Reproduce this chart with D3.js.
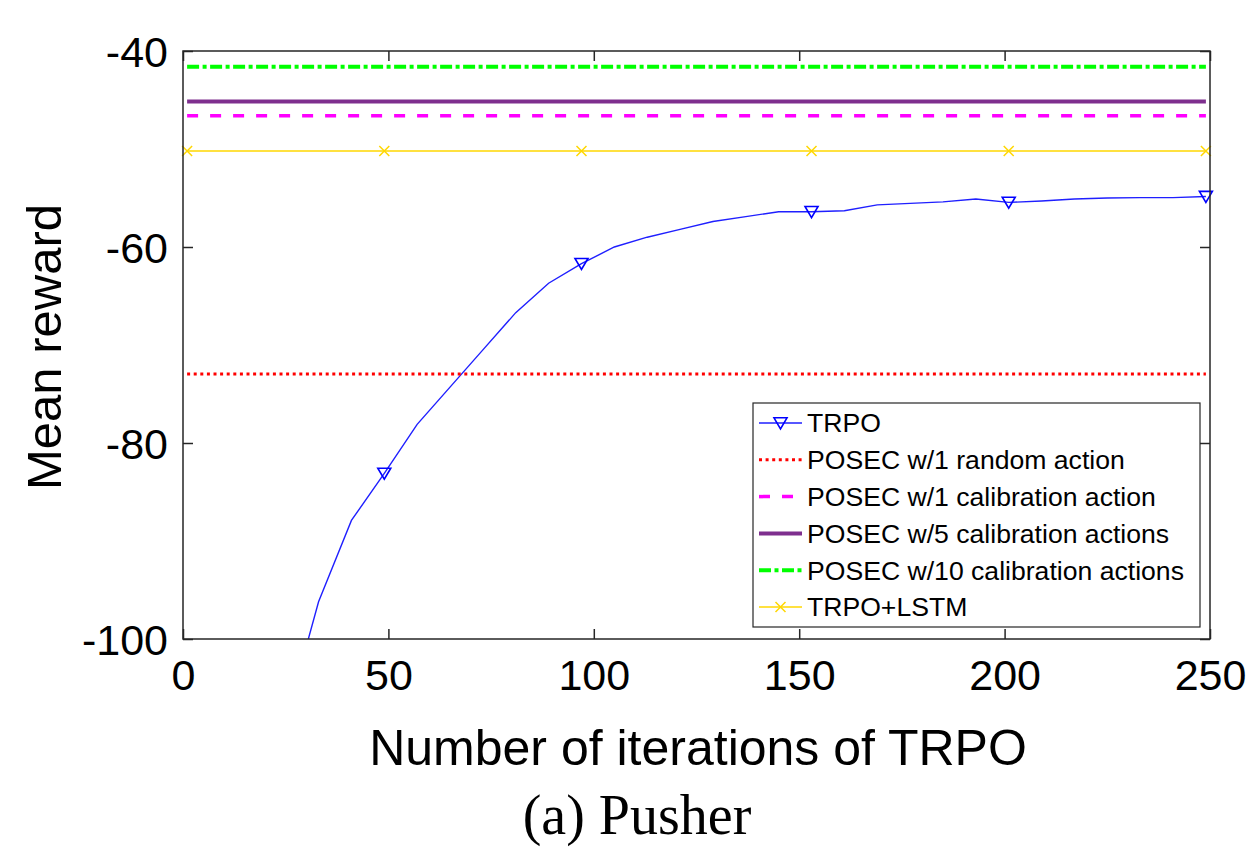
<!DOCTYPE html>
<meta charset="utf-8">
<script src="https://d3js.org/d3.v7.min.js"></script>
<style>
  body { margin: 0; background: #fff; }
  text { font-family: "Liberation Sans", Arial, sans-serif; fill: #000; }
</style>
<body>
<div id="chart"></div>
<script>
// iterations where TRPO was evaluated
var iters = [1, 9, 17, 25, 33, 41, 49, 57, 65, 73, 81, 89, 97, 105, 113, 121,
             129, 137, 145, 153, 161, 169, 177, 185, 193, 201, 209, 217, 225, 233, 241, 249];
// TRPO mean reward (first points fall below the axis)
var trpo = [-150, -132, -118, -108.4, -96.2, -87.9, -83.1, -78.1, -74.3, -70.5, -66.7, -63.7,
            -61.7, -60.0, -59.0, -58.2, -57.4, -56.9, -56.4, -56.4, -56.3, -55.7, -55.55, -55.4,
            -55.1, -55.45, -55.3, -55.1, -55.0, -54.96, -54.96, -54.85];
var trpoMarks = [49, 97, 153, 201, 249];
var lstmMarks = [1, 49, 97, 153, 201, 249];

// flat baselines
var posecRandom1 = -72.95;
var posecCalib1 = -46.6;
var posecCalib5 = -45.15;
var posecCalib10 = -41.6;
var trpoLstm = -50.2;

var xTicks = [0, 50, 100, 150, 200, 250];
var yTicks = [-100, -80, -60, -40];

var legendNames = ["TRPO", "POSEC w/1 random action", "POSEC w/1 calibration action",
  "POSEC w/5 calibration actions", "POSEC w/10 calibration actions", "TRPO+LSTM"];

var W = 1260, H = 848;
var margin = {top: 51, right: 50, bottom: 209, left: 183};
var width = 1210 - margin.left, height = 639 - margin.top;

var svg = d3.select("#chart").append("svg")
  .attr("width", W).attr("height", H);
var g = svg.append("g")
  .attr("transform", "translate(" + margin.left + "," + margin.top + ")");

var x = d3.scaleLinear().domain([0, 250]).range([0, width]);
var y = d3.scaleLinear().domain([-100, -40]).range([height, 0]);

g.append("clipPath").attr("id", "clip")
  .append("rect").attr("width", width).attr("height", height);

var axisColor = "#262626";
var plain = function(d) { return String(d); };  // keep the ascii hyphen

// axes with inward ticks
var xb = g.append("g").attr("transform", "translate(0," + height + ")")
  .call(d3.axisBottom(x).tickValues(xTicks).tickSize(-10).tickPadding(20).tickFormat(plain));
var xt = g.append("g")
  .call(d3.axisTop(x).tickValues(xTicks).tickSize(-10).tickFormat(""));
var yl = g.append("g")
  .call(d3.axisLeft(y).tickValues(yTicks).tickSize(-10).tickPadding(15).tickFormat(plain));
var yr = g.append("g").attr("transform", "translate(" + width + ",0)")
  .call(d3.axisRight(y).tickValues(yTicks).tickSize(-10).tickFormat(""));
[xb, xt, yl, yr].forEach(function(a) {
  a.select(".domain").remove();
  a.selectAll("line").attr("stroke", axisColor).attr("stroke-width", 1.5);
  a.selectAll("text").style("font-size", "43px")
    .style("font-family", "'Liberation Sans', Arial, sans-serif").attr("fill", "#000");
});
xb.selectAll("text").attr("dy", "0.71em");
yl.selectAll("text").attr("dy", "0.36em");

var plot = g.append("g").attr("clip-path", "url(#clip)");

// horizontal reference lines
var flat = [
  {v: posecRandom1, color: "#ff0000", w: 3, dash: "3,3.6"},
  {v: posecCalib1, color: "#ff00ff", w: 3.5, dash: "11,12"},
  {v: posecCalib5, color: "#7e2f8e", w: 4, dash: null},
  {v: posecCalib10, color: "#00ff00", w: 4, dash: "12,3.5,4,3.5"},
  {v: trpoLstm, color: "#ffd700", w: 1.5, dash: null}
];
flat.forEach(function(f) {
  g.append("line")
    .attr("x1", x(iters[0])).attr("x2", x(iters[iters.length - 1]))
    .attr("y1", y(f.v)).attr("y2", y(f.v))
    .attr("stroke", f.color).attr("stroke-width", f.w)
    .attr("stroke-dasharray", f.dash);
});

function xMark(sel, cx, cy, s, color) {
  sel.append("path")
    .attr("d", "M" + (cx - s) + "," + (cy - s) + "L" + (cx + s) + "," + (cy + s) +
      "M" + (cx - s) + "," + (cy + s) + "L" + (cx + s) + "," + (cy - s))
    .attr("stroke", color).attr("stroke-width", 1.5).attr("fill", "none");
}
function triMark(sel, cx, cy, s, color) {
  sel.append("path")
    .attr("d", "M" + (cx - s) + "," + (cy - s * 0.8) + "L" + (cx + s) + "," + (cy - s * 0.8) +
      "L" + cx + "," + (cy + s * 0.9) + "Z")
    .attr("stroke", color).attr("stroke-width", 1.6).attr("fill", "none");
}

lstmMarks.forEach(function(m) { xMark(g, x(m), y(trpoLstm), 5, "#ffd700"); });

// TRPO curve
var pts = iters.map(function(d, i) { return [d, trpo[i]]; });
plot.append("path")
  .datum(pts)
  .attr("d", d3.line().x(function(d) { return x(d[0]); }).y(function(d) { return y(d[1]); }))
  .attr("fill", "none").attr("stroke", "#1f1fff").attr("stroke-width", 1.4);
trpoMarks.forEach(function(m) {
  var i = iters.indexOf(m);
  triMark(g, x(m), y(trpo[i]), 6.5, "#0000ff");
});

// box
g.append("rect").attr("width", width).attr("height", height)
  .attr("fill", "none").attr("stroke", axisColor).attr("stroke-width", 1.5);

// legend
var lg = svg.append("g").attr("transform", "translate(753,403)");
lg.append("rect").attr("width", 447).attr("height", 224)
  .attr("fill", "#fff").attr("stroke", axisColor).attr("stroke-width", 1.2);
var legStyles = [
  {color: "#1f1fff", w: 1.4, dash: null},
  flat[0], flat[1], flat[2], flat[3], flat[4]
];
legendNames.forEach(function(name, i) {
  var cy = 20 + i * 36.8;
  var st = legStyles[i];
  lg.append("line").attr("x1", 6).attr("x2", 49).attr("y1", cy).attr("y2", cy)
    .attr("stroke", st.color).attr("stroke-width", st.w).attr("stroke-dasharray", st.dash);
  if (i === 0) triMark(lg, 27.5, cy, 6.5, "#0000ff");
  if (i === 5) xMark(lg, 27.5, cy, 5, "#ffd700");
  lg.append("text").attr("x", 54).attr("y", cy).attr("dy", "0.35em")
    .style("font-size", "26.6px").text(name);
});

// axis titles
svg.append("text")
  .attr("transform", "translate(61,347) rotate(-90)")
  .attr("text-anchor", "middle")
  .style("font-size", "49px").text("Mean reward");
svg.append("text")
  .attr("x", 698).attr("y", 765).attr("text-anchor", "middle")
  .style("font-size", "50px").text("Number of iterations of TRPO");
svg.append("text")
  .attr("x", 637).attr("y", 834).attr("text-anchor", "middle")
  .style("font-family", "'Liberation Serif', 'Times New Roman', serif")
  .style("font-size", "56px").text("(a) Pusher");
</script>
</body>
